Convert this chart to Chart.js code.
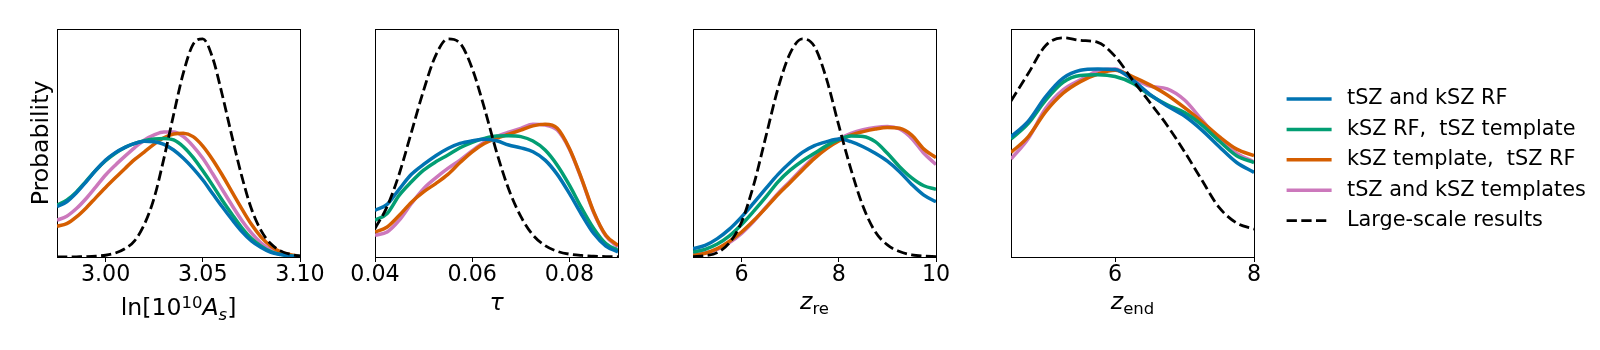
<!DOCTYPE html>
<html>
<head>
<meta charset="utf-8">
<script src="https://cdn.jsdelivr.net/npm/chart.js@4.4.1/dist/chart.umd.min.js"></script>
<style>
  body { margin: 0; background: #fff; }
  #wrap { position: relative; width: 1600px; height: 350px; overflow: hidden; }
  canvas { position: absolute; top: 0; }
</style>
</head>
<body>
<div id="wrap">
  <canvas id="p1" width="335" height="350" style="left:0px"></canvas>
  <canvas id="p2" width="335" height="350" style="left:318px"></canvas>
  <canvas id="p3" width="335" height="350" style="left:636px"></canvas>
  <canvas id="p4" width="335" height="350" style="left:954px"></canvas>
  <canvas id="leg" width="323" height="180" style="left:1277px; top:79px"></canvas>
</div>
<script>
const seriesLabels = ['tSZ and kSZ RF', 'kSZ RF,  tSZ template', 'kSZ template,  tSZ RF', 'tSZ and kSZ templates', 'Large-scale results'];

// ln(10^10 As)
const asX = [2.975, 2.98, 2.985, 2.99, 2.995, 3.0, 3.005, 3.01, 3.015, 3.02, 3.025, 3.03, 3.035, 3.04, 3.045, 3.05, 3.055, 3.06, 3.065, 3.07, 3.075, 3.08, 3.085, 3.09, 3.095, 3.1];
const asBothRF = [0.229, 0.252, 0.293, 0.343, 0.396, 0.442, 0.476, 0.500, 0.518, 0.528, 0.526, 0.514, 0.488, 0.450, 0.404, 0.351, 0.290, 0.229, 0.171, 0.117, 0.073, 0.043, 0.021, 0.011, 0.005, 0.002];
const asKrfTtpl = [0.236, 0.259, 0.297, 0.346, 0.396, 0.439, 0.473, 0.500, 0.518, 0.531, 0.538, 0.541, 0.534, 0.503, 0.454, 0.393, 0.328, 0.259, 0.195, 0.134, 0.084, 0.049, 0.024, 0.012, 0.005, 0.002];
const asKtplTrf = [0.140, 0.152, 0.183, 0.224, 0.271, 0.317, 0.361, 0.404, 0.445, 0.480, 0.515, 0.544, 0.561, 0.564, 0.549, 0.506, 0.445, 0.374, 0.297, 0.221, 0.149, 0.091, 0.050, 0.024, 0.011, 0.003];
const asBothTpl = [0.168, 0.186, 0.221, 0.267, 0.320, 0.374, 0.419, 0.460, 0.499, 0.534, 0.557, 0.570, 0.570, 0.549, 0.506, 0.450, 0.381, 0.308, 0.236, 0.168, 0.110, 0.064, 0.034, 0.015, 0.006, 0.002];
const asLarge = [0.0, 0.0, 0.001, 0.002, 0.004, 0.008, 0.018, 0.038, 0.075, 0.15, 0.27, 0.45, 0.65, 0.84, 0.97, 0.995, 0.91, 0.74, 0.55, 0.37, 0.22, 0.12, 0.06, 0.028, 0.012, 0.004];
const asTicks = [3.0, 3.05, 3.1];
const asTickLabels = ['3.00', '3.05', '3.10'];

// tau
const tauX = [0.04, 0.0425, 0.045, 0.0475, 0.05, 0.0525, 0.055, 0.0575, 0.06, 0.0625, 0.065, 0.0675, 0.07, 0.0725, 0.075, 0.0775, 0.08, 0.0825, 0.085, 0.0875, 0.09];
const tauBothRF = [0.213, 0.240, 0.310, 0.377, 0.422, 0.462, 0.495, 0.518, 0.530, 0.537, 0.530, 0.511, 0.498, 0.480, 0.442, 0.377, 0.290, 0.194, 0.107, 0.050, 0.023];
const tauKrfTtpl = [0.168, 0.198, 0.282, 0.343, 0.396, 0.434, 0.465, 0.498, 0.523, 0.541, 0.552, 0.553, 0.549, 0.529, 0.488, 0.419, 0.328, 0.224, 0.130, 0.061, 0.030];
const tauKtplTrf = [0.114, 0.137, 0.190, 0.250, 0.297, 0.335, 0.377, 0.431, 0.480, 0.518, 0.541, 0.560, 0.579, 0.598, 0.605, 0.587, 0.495, 0.358, 0.206, 0.099, 0.053];
const tauBothTpl = [0.099, 0.114, 0.168, 0.244, 0.312, 0.361, 0.404, 0.442, 0.485, 0.523, 0.549, 0.569, 0.587, 0.605, 0.602, 0.579, 0.492, 0.355, 0.203, 0.096, 0.046];
const tauLarge = [0.13, 0.23, 0.38, 0.57, 0.76, 0.92, 0.995, 0.975, 0.86, 0.68, 0.48, 0.31, 0.185, 0.10, 0.052, 0.026, 0.013, 0.007, 0.004, 0.002, 0.001];
const tauTicks = [0.04, 0.06, 0.08];
const tauTickLabels = ['0.04', '0.06', '0.08'];

// z_re
const zreX = [5, 5.25, 5.5, 5.75, 6, 6.25, 6.5, 6.75, 7, 7.25, 7.5, 7.75, 8, 8.25, 8.5, 8.75, 9, 9.25, 9.5, 9.75, 10];
const zreBothRF = [0.038, 0.053, 0.084, 0.127, 0.183, 0.247, 0.313, 0.377, 0.431, 0.477, 0.508, 0.526, 0.538, 0.526, 0.503, 0.473, 0.437, 0.389, 0.331, 0.282, 0.252];
const zreKrfTtpl = [0.023, 0.035, 0.059, 0.096, 0.148, 0.209, 0.274, 0.343, 0.396, 0.438, 0.473, 0.508, 0.535, 0.552, 0.550, 0.526, 0.473, 0.412, 0.361, 0.325, 0.309];
const zreKtplTrf = [0.008, 0.017, 0.038, 0.072, 0.114, 0.166, 0.224, 0.285, 0.340, 0.396, 0.450, 0.495, 0.529, 0.556, 0.572, 0.584, 0.591, 0.587, 0.556, 0.492, 0.453];
const zreBothTpl = [0.011, 0.018, 0.035, 0.066, 0.108, 0.163, 0.227, 0.290, 0.346, 0.404, 0.457, 0.503, 0.538, 0.564, 0.581, 0.591, 0.595, 0.584, 0.541, 0.473, 0.422];
const zreLarge = [0.002, 0.006, 0.02, 0.065, 0.16, 0.33, 0.55, 0.77, 0.93, 0.995, 0.96, 0.81, 0.60, 0.40, 0.23, 0.115, 0.055, 0.025, 0.01, 0.004, 0.002];
const zreTicks = [6, 8, 10];
const zreTickLabels = ['6', '8', '10'];

// z_end
const zendX = [4.5, 4.75, 5, 5.25, 5.5, 5.75, 6, 6.25, 6.5, 6.75, 7, 7.25, 7.5, 7.75, 8];
const zendBothRF = [0.549, 0.620, 0.732, 0.816, 0.852, 0.858, 0.855, 0.808, 0.742, 0.689, 0.643, 0.579, 0.503, 0.431, 0.386];
const zendKrfTtpl = [0.538, 0.610, 0.716, 0.797, 0.828, 0.831, 0.823, 0.793, 0.739, 0.694, 0.659, 0.602, 0.529, 0.462, 0.431];
const zendKtplTrf = [0.477, 0.549, 0.663, 0.747, 0.800, 0.834, 0.852, 0.823, 0.785, 0.739, 0.681, 0.617, 0.549, 0.492, 0.462];
const zendBothTpl = [0.447, 0.541, 0.678, 0.762, 0.808, 0.849, 0.858, 0.816, 0.780, 0.767, 0.716, 0.625, 0.534, 0.473, 0.434];
const zendLarge = [0.712, 0.838, 0.965, 1.0, 0.988, 0.979, 0.915, 0.808, 0.705, 0.600, 0.480, 0.350, 0.225, 0.155, 0.127];
const zendTicks = [6, 8];
const zendTickLabels = ['6', '8'];

const lineStyles = [
  { color: '#0173b2', width: 3.5, dash: [], order: 1 },
  { color: '#029e73', width: 3.5, dash: [], order: 2 },
  { color: '#d55e00', width: 3.5, dash: [], order: 3 },
  { color: '#cc78bc', width: 3.5, dash: [], order: 4 },
  { color: '#000000', width: 2.8, dash: [10.3, 4.4], order: 0 }
];

Chart.defaults.font.family = "'DejaVu Sans'";
Chart.defaults.font.size = 22.2;
Chart.defaults.color = '#000';

// x label with super/subscripts, drawn under the plot area
const mathLabel = {
  id: 'mathLabel',
  afterDraw(chart, args, opts) {
    const ctx = chart.ctx;
    const area = chart.chartArea;
    const runs = opts.parts.map(p => {
      const size = p.small ? 16.5 : 23.6;
      const font = (p.it ? 'italic ' : '') + size + "px 'DejaVu Sans'";
      ctx.font = font;
      return { t: p.t, dy: p.dy || 0, font: font, w: ctx.measureText(p.t).width };
    });
    const total = runs.reduce((a, r) => a + r.w, 0);
    let x = (area.left + area.right) / 2 - total / 2;
    ctx.save();
    ctx.fillStyle = '#000';
    ctx.textAlign = 'left';
    ctx.textBaseline = 'alphabetic';
    runs.forEach(r => {
      ctx.font = r.font;
      ctx.fillText(r.t, x, opts.baseline + r.dy);
      x += r.w;
    });
    ctx.restore();
  }
};

function makeSets(xs, ysList) {
  return ysList.map((ys, k) => ({
    label: seriesLabels[k],
    data: xs.map((x, i) => ({ x: x, y: ys[i] })),
    borderColor: lineStyles[k].color,
    borderWidth: lineStyles[k].width,
    borderDash: lineStyles[k].dash,
    order: lineStyles[k].order,
    pointRadius: 0,
    fill: false,
    cubicInterpolationMode: 'monotone',
    clip: 0,
    xAxisID: 'x',
    yAxisID: 'y'
  }));
}

function makePanel(id, xs, ysList, xmin, xmax, ticks, tickLabels, parts, baseline, yTitle) {
  const spine = { display: true, color: '#000', width: 1 };
  new Chart(document.getElementById(id), {
    type: 'line',
    data: { datasets: makeSets(xs, ysList) },
    options: {
      responsive: false,
      animation: false,
      devicePixelRatio: 1,
      events: [],
      layout: { padding: { left: 0, top: 29, right: 35, bottom: 0 } },
      scales: {
        x: {
          type: 'linear', position: 'bottom', min: xmin, max: xmax,
          afterBuildTicks: s => { s.ticks = ticks.map(v => ({ value: v })); },
          afterFit: s => { s.height = 93; },
          ticks: { autoSkip: false, maxRotation: 0, minRotation: 0, padding: 0,
                   callback: (v, i) => tickLabels[i] },
          grid: { display: true, drawOnChartArea: false, drawTicks: true, tickLength: 5, color: '#000', lineWidth: 1 },
          border: spine
        },
        y: {
          type: 'linear', position: 'left', min: 0, max: 1.04,
          afterFit: s => { s.width = 57; },
          ticks: { display: false },
          grid: { display: false },
          border: spine,
          title: { display: !!yTitle, text: yTitle || '', padding: { top: 27.5, bottom: 0 }, font: { size: 23.6 } }
        },
        xt: {
          type: 'linear', position: 'top', min: xmin, max: xmax,
          afterFit: s => { s.height = 0; },
          ticks: { display: false }, grid: { display: false }, border: spine
        },
        yr: {
          type: 'linear', position: 'right', min: 0, max: 1.04,
          afterFit: s => { s.width = 0; },
          ticks: { display: false }, grid: { display: false }, border: spine
        }
      },
      plugins: {
        legend: { display: false },
        tooltip: { enabled: false },
        mathLabel: { parts: parts, baseline: baseline }
      }
    },
    plugins: [mathLabel]
  });
}

makePanel('p1', asX, [asBothRF, asKrfTtpl, asKtplTrf, asBothTpl, asLarge], 2.975, 3.1, asTicks, asTickLabels,
  [{ t: 'ln[10' }, { t: '10', small: true, dy: -7 }, { t: 'A', it: true }, { t: 's', it: true, small: true, dy: 5 }, { t: ']' }],
  315, 'Probability');
makePanel('p2', tauX, [tauBothRF, tauKrfTtpl, tauKtplTrf, tauBothTpl, tauLarge], 0.04, 0.09, tauTicks, tauTickLabels,
  [{ t: 'τ', it: true }], 310);
makePanel('p3', zreX, [zreBothRF, zreKrfTtpl, zreKtplTrf, zreBothTpl, zreLarge], 5, 10, zreTicks, zreTickLabels,
  [{ t: 'z', it: true }, { t: 're', small: true, dy: 5 }], 309);
makePanel('p4', zendX, [zendBothRF, zendKrfTtpl, zendKtplTrf, zendBothTpl, zendLarge], 4.5, 8, zendTicks, zendTickLabels,
  [{ t: 'z', it: true }, { t: 'end', small: true, dy: 5 }], 309);

// legend, drawn by Chart.js on its own canvas; the dash arrays end in a gap so the
// handle stays 45px long while the text sits a little further right
new Chart(document.getElementById('leg'), {
  type: 'line',
  data: { datasets: makeSets([], [[], [], [], [], []]) },
  options: {
    responsive: false,
    animation: false,
    devicePixelRatio: 1,
    events: [],
    scales: { x: { type: 'linear', display: false }, y: { display: false } },
    plugins: {
      tooltip: { enabled: false },
      legend: {
        position: 'left', align: 'start', maxWidth: 323,
        labels: {
          usePointStyle: true, pointStyle: 'line', pointStyleWidth: 50, padding: 9.6,
          color: '#000', font: { size: 20.8 },
          generateLabels: chart => chart.data.datasets.map((d, i) => ({
            text: d.label, fontColor: '#000', strokeStyle: d.borderColor, fillStyle: d.borderColor,
            lineWidth: d.borderWidth,
            lineDash: d.borderDash.length ? [10.3, 4.4, 10.3, 4.4, 10.3, 30] : [45, 30],
            lineCap: 'butt', pointStyle: 'line', hidden: false, datasetIndex: i
          }))
        }
      }
    }
  }
});
</script>
</body>
</html>
